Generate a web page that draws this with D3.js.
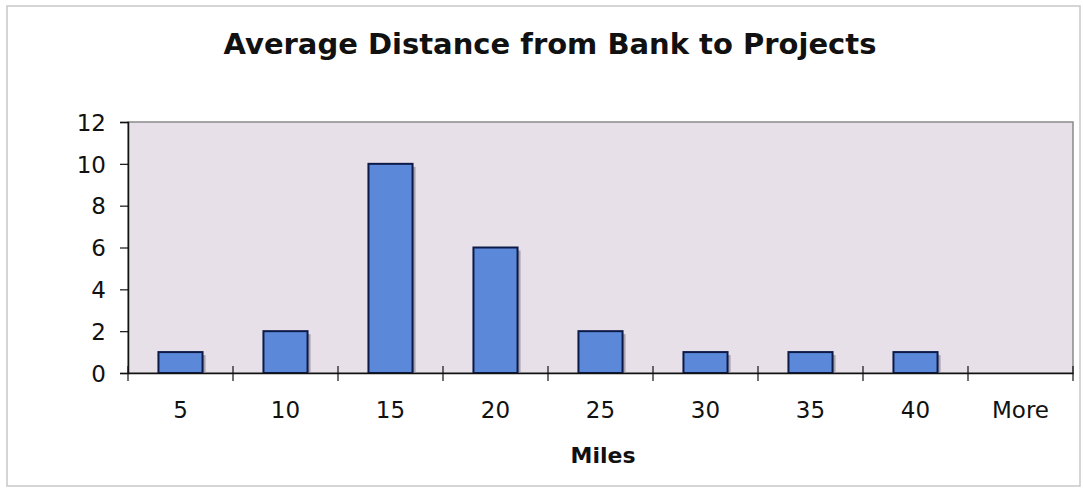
<!DOCTYPE html>
<html>
<head>
<meta charset="utf-8">
<script src="https://cdn.jsdelivr.net/npm/d3@7"></script>
<style>
  body { margin: 0; background: #fff; }
  text { font-family: "DejaVu Sans", Verdana, sans-serif; fill: #111; }
</style>
</head>
<body>
<div id="app"></div>
<script>
const categories = ["5", "10", "15", "20", "25", "30", "35", "40", "More"];
const counts = [1, 2, 10, 6, 2, 1, 1, 1, 0];
const yTicks = [0, 2, 4, 6, 8, 10, 12];

const width = 1083;
const height = 490;
const plotL = 128, plotR = 1073, plotT = 122, plotB = 373;

const svg = d3.select("#app").append("svg")
    .attr("width", width)
    .attr("height", height)
    .style("display", "block");

// outer frame
svg.append("rect")
    .attr("x", 7).attr("y", 6)
    .attr("width", 1073).attr("height", 480)
    .style("fill", "#fff")
    .style("stroke", "#c8c8c8")
    .style("stroke-width", 1.5);

const x = d3.scaleBand().domain(categories).range([plotL, plotR]).paddingInner(0).paddingOuter(0);
const y = d3.scaleLinear().domain([0, 12]).range([plotB, plotT]);

// plot area
svg.append("rect")
    .attr("x", plotL).attr("y", plotT)
    .attr("width", plotR - plotL).attr("height", plotB - plotT)
    .style("fill", "#e7e0e8")
    .style("stroke", "#8a8a8a")
    .style("stroke-width", 1.5);

// bars
const barData = counts.map((v, i) => ({ cat: categories[i], v })).filter(d => d.v > 0);
const barW = x.bandwidth() * 0.42;
const bars = svg.append("g");
bars.selectAll("rect.shadow")
    .data(barData)
    .enter()
    .append("rect")
    .attr("class", "shadow")
    .attr("x", d => x(d.cat) + (x.bandwidth() - barW) / 2 + 3)
    .attr("y", d => y(d.v) + 3)
    .attr("width", barW)
    .attr("height", d => y(0) - y(d.v) - 3)
    .style("fill", "#a8a1ae");
bars.selectAll("rect.bar")
    .data(barData)
    .enter()
    .append("rect")
    .attr("class", "bar")
    .attr("x", d => x(d.cat) + (x.bandwidth() - barW) / 2)
    .attr("y", d => y(d.v))
    .attr("width", barW)
    .attr("height", d => y(0) - y(d.v))
    .style("fill", "#5b88d8")
    .style("stroke", "#0c1a48")
    .style("stroke-width", 2);

// y axis
const yAxis = svg.append("g")
    .attr("transform", "translate(" + plotL + ",0)")
    .call(d3.axisLeft(y).tickValues(yTicks).tickSize(8).tickPadding(14));
yAxis.select(".domain").attr("stroke", "#111").attr("stroke-width", 1.5);
yAxis.selectAll(".tick line").attr("stroke", "#111").attr("stroke-width", 1.2);
yAxis.selectAll(".tick text")
    .style("font-size", "23px")
    .attr("dy", "0.36em");

// x axis
const xAxis = svg.append("g")
    .attr("transform", "translate(0," + plotB + ")")
    .call(d3.axisBottom(x).tickSize(0).tickPadding(29));
xAxis.select(".domain").attr("stroke", "#111").attr("stroke-width", 1.5);
xAxis.selectAll(".tick text").style("font-size", "23px");

// category boundary ticks crossing the axis
const bounds = categories.map(c => x(c)).concat([plotR]);
svg.append("g").selectAll("line")
    .data(bounds)
    .enter()
    .append("line")
    .attr("x1", d => d).attr("x2", d => d)
    .attr("y1", plotB - 7).attr("y2", plotB + 8)
    .style("stroke", "#111")
    .style("stroke-width", 1.2);

// title
svg.append("text")
    .attr("x", 550).attr("y", 54)
    .attr("text-anchor", "middle")
    .style("font-size", "29px")
    .style("font-weight", "bold")
    .text("Average Distance from Bank to Projects");

// x axis title
svg.append("text")
    .attr("x", 603).attr("y", 463)
    .attr("text-anchor", "middle")
    .style("font-size", "22px")
    .style("font-weight", "bold")
    .text("Miles");
</script>
</body>
</html>
